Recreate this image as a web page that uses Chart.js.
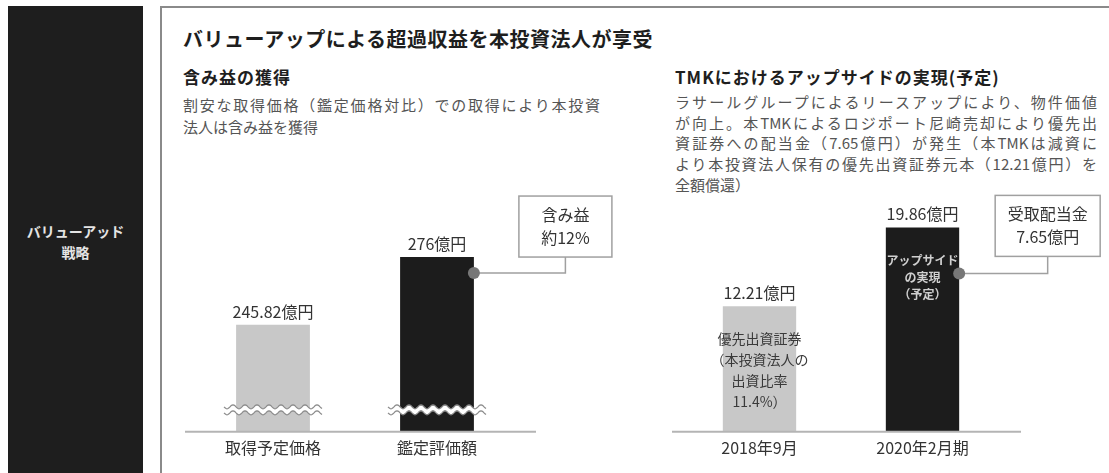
<!DOCTYPE html>
<html lang="ja">
<head>
<meta charset="utf-8">
<script src="https://cdn.jsdelivr.net/npm/chart.js@4.4.1/dist/chart.umd.min.js"></script>
<style>
  body { margin: 0; width: 1109px; height: 473px; overflow: hidden; background: #fff; position: relative;
         font-family: "Noto Sans CJK JP", "Noto Sans", sans-serif; }
  #side { position: absolute; left: 8px; top: 6px; width: 135px; height: 480px; background: #1e1e1e; }
  #side div { position: absolute; top: 215px; width: 100%; text-align: center; color: #e4e4e4;
              font-size: 14px; line-height: 21px; font-weight: bold; }
  #frame { position: absolute; left: 160px; top: 6px; width: 1000px; height: 500px;
           border-left: 2px solid #8a8a8a; border-top: 2px solid #8a8a8a; }
  .txt { position: absolute; white-space: nowrap; }
  #title { left: 183px; top: 27px; font-size: 20px; line-height: 24px; font-weight: bold; color: #1e1e1e;
           letter-spacing: 0.5px; }
  .sub { top: 66px; font-size: 17px; line-height: 22px; font-weight: bold; color: #1e1e1e; letter-spacing: 1px; }
  .desc { position: absolute; font-size: 15px; color: #555; }
  .desc div { white-space: nowrap; }
  .desc .j { text-align: justify; text-align-last: justify; white-space: normal; }
  canvas { position: absolute; }
</style>
</head>
<body>
<div id="side"><div>バリューアッド<br>戦略</div></div>
<div id="frame"></div>
<div class="txt" id="title">バリューアップによる超過収益を本投資法人が享受</div>
<div class="txt sub" style="left:183px">含み益の獲得</div>
<div class="txt sub" style="left:675px">TMKにおけるアップサイドの実現(予定)</div>
<div class="desc" style="left:183px; top:94px; width:417px; line-height:22px">
  <div class="j">割安な取得価格（鑑定価格対比）での取得により本投資</div>
  <div>法人は含み益を獲得</div>
</div>
<div class="desc" style="left:675px; top:92px; width:422px; line-height:20.7px">
  <div class="j">ラサールグループによるリースアップにより、物件価値</div>
  <div class="j">が向上。本TMKによるロジポート尼崎売却により優先出</div>
  <div class="j">資証券への配当金（7.65億円）が発生（本TMKは減資に</div>
  <div class="j">より本投資法人保有の優先出資証券元本（12.21億円）を</div>
  <div>全額償還）</div>
</div>
<canvas id="gain" width="480" height="293" style="left:170px; top:180px"></canvas>
<canvas id="tmk" width="449" height="293" style="left:660px; top:180px"></canvas>
<script>
// left chart: acquisition price vs appraisal (axis is broken)
var gainLabels = ['取得予定価格', '鑑定評価額'];
var gainValues = [245.82, 276];
var gainCallout = ['含み益', '約12%'];

// right chart: TMK preferred shares
var tmkLabels = ['2018年9月', '2020年2月期'];
var tmkValues = [12.21, 19.86];
var tmkInside = [
    ['優先出資証券', '（本投資法人の', '出資比率', '11.4%）'],
    ['アップサイド', 'の実現', '（予定）']
];
var tmkCallout = ['受取配当金', '7.65億円'];

var FONT = '"Noto Sans CJK JP", sans-serif';

function wave(ctx, x0, x1, y) {
    function draw(dy) {
        ctx.beginPath();
        for (var x = x0; x <= x1; x++) {
            var yy = y + dy + 2 * Math.sin((x - x0) / 12 * 2 * Math.PI);
            if (x === x0) ctx.moveTo(x, yy); else ctx.lineTo(x, yy);
        }
        ctx.stroke();
    }
    ctx.strokeStyle = '#fff';
    ctx.lineWidth = 5;
    draw(0);
    ctx.strokeStyle = '#8a8a8a';
    ctx.lineWidth = 1.2;
    draw(-3);
    draw(3);
}

var annot = {
    id: 'annot',
    afterDatasetsDraw: function(chart, args, opts) {
        var ctx = chart.ctx;
        var area = chart.chartArea;
        var bars = chart.getDatasetMeta(0).data;
        var values = chart.data.datasets[0].data;
        ctx.save();

        // baseline
        ctx.strokeStyle = '#b4b4b4';
        ctx.lineWidth = 2;
        ctx.beginPath();
        ctx.moveTo(area.left - 6, area.bottom);
        ctx.lineTo(area.right + 17, area.bottom);
        ctx.stroke();

        // value labels
        ctx.textAlign = 'center';
        ctx.textBaseline = 'middle';
        ctx.font = '16px ' + FONT;
        ctx.fillStyle = '#333';
        bars.forEach(function(b, i) {
            ctx.fillText(values[i] + '億円', b.x, b.y - 13);
        });

        // text inside the bars
        if (opts.inside) {
            opts.inside.forEach(function(lines, i) {
                var b = bars[i];
                var dark = i === 1;
                ctx.font = (dark ? 'bold 12px ' : '14px ') + FONT;
                ctx.fillStyle = dark ? '#d0d0d0' : '#3a3a3a';
                var lh = dark ? 17 : 20.7;
                lines.forEach(function(t, j) {
                    ctx.fillText(t, b.x, b.y + 33 + j * lh);
                });
            });
        }

        // broken axis marks
        if (opts.breakAt) {
            bars.forEach(function(b) {
                wave(ctx, b.x - 49, b.x + 49, area.bottom - opts.breakAt);
            });
        }

        // callout box linked to the second bar
        var c = opts.callout;
        var b = bars[1];
        var right = b.x + b.width / 2;
        var bx = right + c.dx, by = b.y + c.dy;
        var dotY = b.y + c.dotDy;
        var cx = bx + c.w / 2;
        ctx.strokeStyle = '#a0a0a0';
        ctx.lineWidth = 1.5;
        ctx.beginPath();
        ctx.moveTo(right, dotY);
        ctx.lineTo(cx, dotY);
        ctx.lineTo(cx, by + c.h);
        ctx.stroke();
        ctx.strokeRect(bx, by, c.w, c.h);
        ctx.fillStyle = '#777';
        ctx.beginPath();
        ctx.arc(right, dotY, 6, 0, Math.PI * 2);
        ctx.fill();
        ctx.font = '16px ' + FONT;
        ctx.fillStyle = '#333';
        c.lines.forEach(function(t, j) {
            ctx.fillText(t, cx, by + 19 + j * 23);
        });
        ctx.restore();
    }
};

function makeChart(id, labels, values, yMin, yMax, padding, annotOpts) {
    return new Chart(document.getElementById(id), {
        type: 'bar',
        data: {
            labels: labels,
            datasets: [{
                data: values,
                backgroundColor: ['#c8c8c8', '#1c1c1c'],
                barPercentage: 0.45,
                categoryPercentage: 1
            }]
        },
        options: {
            responsive: false,
            animation: false,
            devicePixelRatio: 1,
            layout: { padding: padding },
            plugins: { legend: { display: false }, tooltip: { enabled: false }, annot: annotOpts },
            scales: {
                x: {
                    grid: { display: false, drawTicks: false },
                    border: { display: false },
                    ticks: { color: '#333', padding: 7, font: { family: FONT, size: 16 } }
                },
                y: { display: false, min: yMin, max: yMax }
            }
        },
        plugins: [annot]
    });
}

makeChart('gain', gainLabels, gainValues, 198, 297,
    { left: 21, right: 131, top: 30, bottom: 8 },
    { breakAt: 22, callout: { lines: gainCallout, dx: 45, dy: -61, w: 93, h: 61, dotDy: 16 } });

makeChart('tmk', tmkLabels, tmkValues, 0, 21.55,
    { left: 18, right: 105, top: 30, bottom: 8 },
    { inside: tmkInside, callout: { lines: tmkCallout, dx: 36, dy: -32, w: 105, h: 61, dotDy: 46 } });
</script>
</body>
</html>
